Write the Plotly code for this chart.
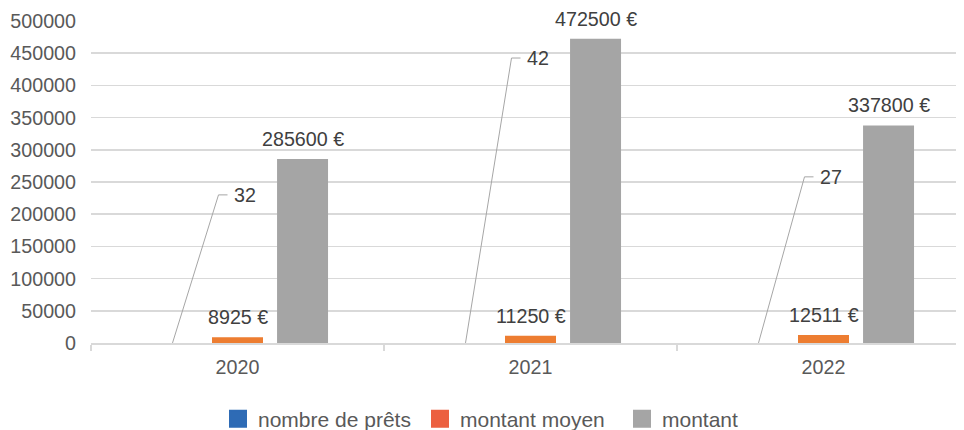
import plotly.graph_objects as go

years = ["2020", "2021", "2022"]
nombre_prets = [32, 42, 27]
montant_moyen = [8925, 11250, 12511]
montant = [285600, 472500, 337800]
series_names = ["nombre de prêts", "montant moyen", "montant"]
y_ticks = [0, 50000, 100000, 150000, 200000, 250000, 300000, 350000, 400000, 450000, 500000]

# layout constants (label placement for the leader-lined labels)
blue_label_y = [230000, 442500, 258000]

bar_colors = ["#2E6BB5", "#ED7D31", "#A5A5A5"]
legend_colors = ["#2E6BB5", "#EC6040", "#A5A5A5"]
FONT = "Liberation Sans, Arial, sans-serif"
FS = 19.7
LFS = 21

W, H = 964, 430
ML, MT, MB = 83, 13, 95
PLOT_W = W - ML
UNIT = 293.0

xs = list(range(len(years)))
OFF = 65 / UNIT  # bar offset in category units
fig = go.Figure()
for vals, name, col in zip([nombre_prets, montant_moyen, montant], series_names, bar_colors):
    fig.add_trace(go.Bar(x=xs, y=vals, name=name, marker_color=col, marker_line_width=0,
                         showlegend=False, hoverinfo="skip"))
for name, col in zip(series_names, legend_colors):
    fig.add_trace(go.Scatter(x=[None], y=[None], mode="markers", name=name,
                             marker=dict(symbol="square", size=16, color=col,
                                         line=dict(color=col, width=2))))

annotations = []
shapes = []
for i, x in enumerate(xs):
    annotations.append(dict(x=x, y=montant_moyen[i], text=f"{montant_moyen[i]} €", showarrow=False,
                            yanchor="middle", yshift=20, font=dict(size=FS, color="#404040", family=FONT)))
    annotations.append(dict(x=x + OFF, y=montant[i], text=f"{montant[i]} €", showarrow=False,
                            yanchor="middle", yshift=20, font=dict(size=FS, color="#404040", family=FONT)))
    bx = x - OFF
    ex = bx + 46 / UNIT
    hx = ex + 9 / UNIT
    ly = blue_label_y[i]
    shapes.append(dict(type="line", x0=bx, y0=nombre_prets[i], x1=ex, y1=ly,
                       line=dict(color="#A6A6A6", width=1)))
    shapes.append(dict(type="line", x0=ex, y0=ly, x1=hx, y1=ly,
                       line=dict(color="#A6A6A6", width=1)))
    annotations.append(dict(x=hx, y=ly, text=str(nombre_prets[i]), showarrow=False,
                            xanchor="left", yanchor="middle", xshift=4,
                            font=dict(size=FS, color="#404040", family=FONT)))

fig.update_layout(
    width=W, height=H,
    margin=dict(l=ML, r=0, t=MT, b=MB, autoexpand=False),
    paper_bgcolor="white", plot_bgcolor="white",
    barmode="group", bargap=0.334, bargroupgap=0.216,
    font=dict(family=FONT, size=FS, color="#595959"),
    annotations=annotations, shapes=shapes,
    legend=dict(orientation="h", xref="container", yref="container",
                x=210 / W, xanchor="left", y=(H - 411) / H, yanchor="middle",
                entrywidthmode="pixels", entrywidth=157,
                font=dict(size=LFS, color="#595959"), bgcolor="rgba(0,0,0,0)"),
    xaxis=dict(range=[-0.5, -0.5 + PLOT_W / UNIT], tickmode="array", tickvals=xs, ticktext=years,
               ticks="", showgrid=False, zeroline=False, showline=True, linecolor="#D9D9D9",
               linewidth=1.5, ticklabelstandoff=6, automargin=False, layer="above traces",
               minor=dict(tickmode="array", tickvals=[-0.5, 0.5, 1.5, 2.5], ticks="outside",
                          ticklen=6, tickcolor="#D9D9D9", tickwidth=1.5, showgrid=False),
               tickfont=dict(size=FS, color="#595959")),
    yaxis=dict(range=[0, 500000], tickmode="array", tickvals=y_ticks, ticktext=[str(v) for v in y_ticks],
               showgrid=True, gridcolor="#D9D9D9", gridwidth=1.5, zeroline=False, automargin=False,
               ticks="", ticklabelstandoff=14, tickfont=dict(size=FS, color="#595959")),
)

fig.write_html("out.html", config={"staticPlot": True})
